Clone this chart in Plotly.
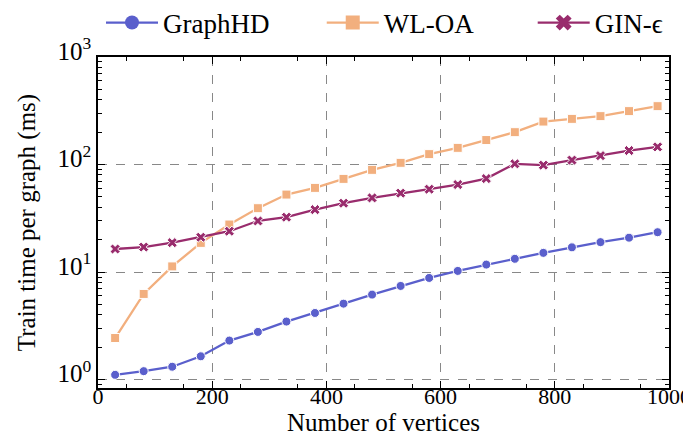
import plotly.graph_objects as go
import math

vertices = [30, 80, 130, 180, 230, 280, 330, 380, 430, 480,
            530, 580, 630, 680, 730, 780, 830, 880, 930, 980]
graphhd = [1.11, 1.20, 1.32, 1.65, 2.31, 2.78, 3.47, 4.17, 5.09, 6.18,
           7.44, 8.83, 10.26, 11.75, 13.3, 15.1, 17.0, 19.0, 20.9, 23.5]
wloa = [2.44, 6.27, 11.3, 18.7, 27.7, 39.3, 52.6, 60.7, 73.6, 89.3,
        103.8, 125, 143, 169, 200, 251, 266, 282, 314, 349]
gin = [16.4, 17.1, 18.8, 21.1, 24.0, 29.9, 32.4, 38.1, 43.7, 49.0,
       54.2, 59.0, 65.2, 74.1, 101.6, 98.7, 110, 121, 135, 146]

series = [
    ("GraphHD", graphhd, "#5A5FCC", "circle", 9, 7),
    ("WL-OA", wloa, "#F2AF7E", "square", 9, 8),
    ("GIN-ϵ", gin, "#992C6D", "x", 9, 0),
]

FONT = "Liberation Serif"
fig = go.Figure()
for name, vals, color, sym, size, gap in series:
    fig.add_trace(go.Scatter(
        x=vertices, y=vals, name=name, mode="lines+markers",
        line=dict(color=color, width=2.3),
        marker=dict(symbol=sym, size=size, color=color,
                    line=dict(color="white", width=1)),
        showlegend=False, legendgroup=name,
    ))
for name, vals, color, sym, size, gap in series:
    fig.add_trace(go.Scatter(
        x=[None], y=[None], name=name + "\u00a0" * gap, mode="lines+markers",
        line=dict(color=color, width=2.3),
        marker=dict(symbol=sym, size=14, color=color),
        legendgroup=name,
    ))

y_major = [1, 10, 100, 1000]
y_minor = [m * 10 ** e for e in range(-1, 3) for m in range(2, 10)]
y_minor = [v for v in y_minor if 0.837 <= v <= 1000]

fig.update_layout(
    width=691, height=441,
    margin=dict(l=90, r=30, t=49, b=61, autoexpand=False),
    paper_bgcolor="white", plot_bgcolor="white",
    font=dict(family=FONT, size=24, color="black"),
    legend=dict(orientation="h", xref="container", yref="container",
                x=93 / 691, xanchor="left", y=1 - 15 / 441, yanchor="middle",
                font=dict(size=27), bgcolor="rgba(0,0,0,0)", itemwidth=52,
                tracegroupgap=0),
    showlegend=True,
)
fig.update_xaxes(
    range=[0, 1000], tickvals=[0, 200, 400, 600, 800, 1000],
    ticks="inside", ticklen=7, tickwidth=1.2, tickcolor="black",
    minor=dict(tickvals=list(range(50, 1000, 100)), ticks="inside", ticklen=4, tickcolor="black", showgrid=False),
    showline=True, linecolor="black", linewidth=1.5, mirror="allticks",
    showgrid=True, gridcolor="#888888", griddash="dash", gridwidth=1,
    zeroline=False, ticklabeloverflow="allow", ticklabelstandoff=-12,
    title=dict(text="Number of vertices", standoff=4, font=dict(size=25)),
    tickfont=dict(size=22),
)
fig.update_yaxes(
    type="log", range=[math.log10(0.837), 3],
    tickvals=y_major, ticktext=["10<sup>0</sup>", "10<sup>1</sup>", "10<sup>2</sup>", "10<sup>3</sup>"],
    ticks="inside", ticklen=7, tickwidth=1.2, tickcolor="black",
    minor=dict(tickvals=y_minor, ticks="inside", ticklen=4, tickcolor="black", showgrid=False),
    showline=True, linecolor="black", linewidth=1.5, mirror="allticks",
    showgrid=True, gridcolor="#888888", griddash="dash", gridwidth=1,
    zeroline=False, ticklabelshift=-6,
    title=dict(text="Train time per graph (ms)", standoff=15, font=dict(size=25)),
    tickfont=dict(size=25),
)
fig.write_html("out.html")
